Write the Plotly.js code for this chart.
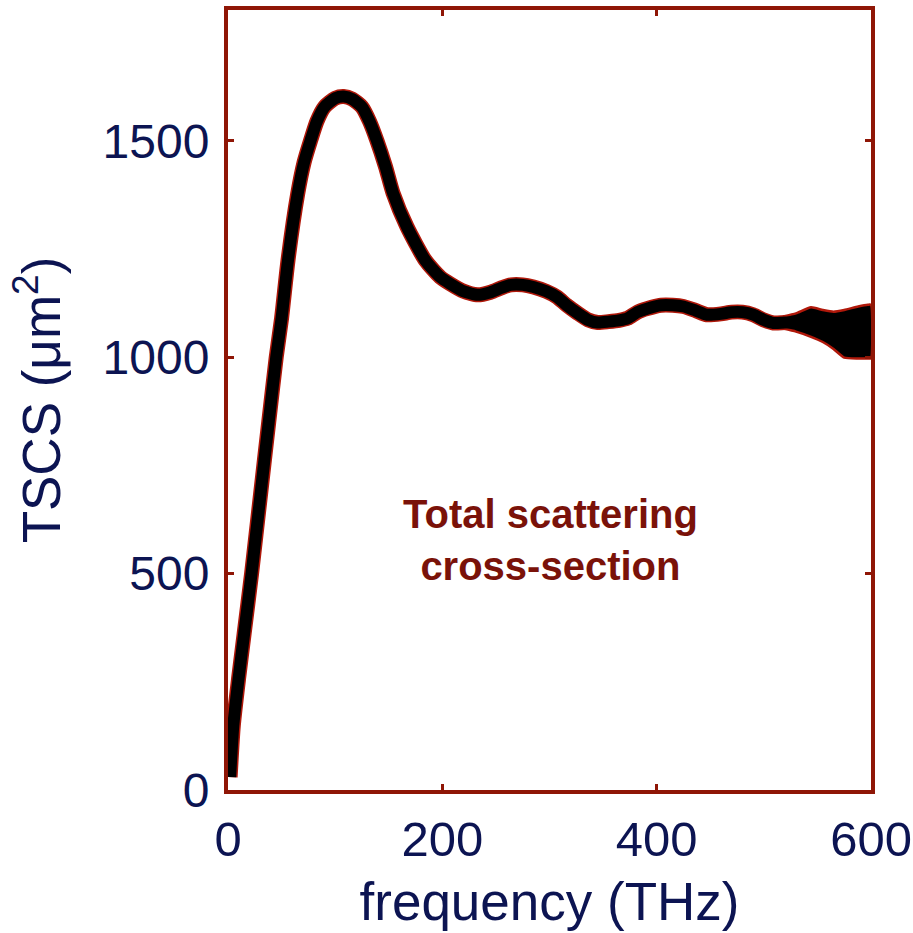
<!DOCTYPE html>
<html>
<head>
<meta charset="utf-8">
<script src="https://cdn.plot.ly/plotly-3.0.1.min.js"></script>
<style>
  html, body { margin: 0; padding: 0; background: #ffffff; }
  #chart { width: 913px; height: 933px; }
</style>
</head>
<body>
<div id="chart"></div>
<script>
// Total scattering cross-section vs frequency
const freqTHz = [2, 5, 10, 15, 22, 30, 38, 45, 50, 56, 65, 71, 77, 83, 90, 100, 108, 116, 125, 132, 139, 147, 154, 167, 184, 198, 207, 220, 233, 245, 255, 264, 275, 285, 297, 307, 316, 326, 336, 345, 355, 365, 373, 382, 391, 404, 415, 425, 436, 447, 460, 470, 480, 490, 500, 509, 520, 535, 544, 555, 565, 575, 588, 600];
const tscs    = [30, 150, 260, 360, 500, 675, 850, 1000, 1090, 1224, 1377, 1450, 1500, 1545, 1578, 1598, 1602, 1596, 1578, 1545, 1500, 1440, 1379, 1301, 1224, 1185, 1170, 1152, 1144, 1150, 1160, 1167, 1167, 1162, 1152, 1139, 1120, 1102, 1086, 1080, 1082, 1085, 1090, 1104, 1112, 1120, 1120, 1117, 1108, 1098, 1100, 1104, 1104, 1098, 1086, 1079, 1080, 1080, 1080, 1072, 1062, 1055, 1057, 1060];

// Spread of the noisy high-frequency tail (upper / lower extent of the trace)
const tailFreq  = [518, 530, 544, 555, 565, 575, 588, 597, 600];
const tailUpper = [1094, 1101, 1115, 1109, 1105, 1109, 1117, 1121, 1121];
const tailLower = [1066, 1059, 1047, 1035, 1019, 999, 997, 997, 997];

const xTicks = [0, 200, 400, 600];
const yTicks = [0, 500, 1000, 1500];

const frameRed = '#8f1606';
const navy = '#0c1452';
const textRed = '#7a1209';
const fontFam = 'Liberation Sans, Arial, Helvetica, sans-serif';

const tailPolyX = tailFreq.concat(tailFreq.slice().reverse());
const tailPolyY = tailUpper.concat(tailLower.slice().reverse());

const traces = [
  { // red fringe under the curve
    x: freqTHz, y: tscs, mode: 'lines', hoverinfo: 'skip',
    line: { color: '#b0180a', width: 15, shape: 'spline', smoothing: 0.6 }
  },
  { // noisy tail band
    x: tailPolyX, y: tailPolyY, mode: 'lines', fill: 'toself', hoverinfo: 'skip',
    fillcolor: '#000000',
    line: { color: '#b0180a', width: 2.5, shape: 'spline', smoothing: 0.5 }
  },
  { // black curve
    x: freqTHz, y: tscs, mode: 'lines',
    line: { color: '#000000', width: 12, shape: 'spline', smoothing: 0.6 }
  }
];

const layout = {
  width: 913, height: 933,
  margin: { l: 228, r: 42, t: 10, b: 143 },
  paper_bgcolor: '#ffffff', plot_bgcolor: '#ffffff',
  showlegend: false,
  font: { family: fontFam, color: navy },
  xaxis: {
    range: [0, 600], tickvals: xTicks, ticktext: xTicks.map(String),
    showgrid: false, zeroline: false,
    showline: true, linecolor: frameRed, linewidth: 4, mirror: 'ticks',
    ticks: 'inside', ticklen: 6, tickwidth: 3, tickcolor: frameRed,
    tickfont: { size: 49, color: navy, family: fontFam },
    ticklabelstandoff: 3,
    title: { text: 'frequency (THz)', font: { size: 53, color: navy, family: fontFam }, standoff: 19 }
  },
  yaxis: {
    range: [0, 1802], tickvals: yTicks, ticktext: yTicks.map(String),
    showgrid: false, zeroline: false,
    showline: true, linecolor: frameRed, linewidth: 4, mirror: 'ticks',
    ticks: 'inside', ticklen: 6, tickwidth: 3, tickcolor: frameRed,
    tickfont: { size: 48, color: navy, family: fontFam },
    ticklabelstandoff: 5,
    title: { text: 'TSCS (μm<sup>2</sup>)', font: { size: 53, color: navy, family: fontFam }, standoff: 26 }
  },
  annotations: [{
    x: 301, y: 578, xref: 'x', yref: 'y', showarrow: false,
    text: 'Total scattering<br>cross-section',
    font: { size: 40, color: textRed, family: fontFam, weight: 700 },
    align: 'center', xanchor: 'center', yanchor: 'middle'
  }]
};

Plotly.newPlot('chart', traces, layout, { staticPlot: true, displayModeBar: false });
</script>
</body>
</html>
